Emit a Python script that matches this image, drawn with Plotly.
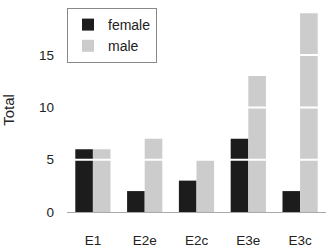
import plotly.graph_objects as go

categories = ["E1", "E2e", "E2c", "E3e", "E3c"]
female = [6, 2, 3, 7, 2]
male = [6, 7, 5, 13, 19]
y_ticks = [0, 5, 10, 15]

fig = go.Figure()
fig.add_trace(go.Bar(x=categories, y=female, name="female", marker_color="#1c1c1c",
                     marker_line_width=0))
fig.add_trace(go.Bar(x=categories, y=male, name="male", marker_color="#cccccc",
                     marker_line_width=0))

for t in y_ticks[1:]:
    fig.add_shape(type="line", xref="paper", x0=0, x1=1, yref="y", y0=t, y1=t,
                  line=dict(color="white", width=2), layer="above")

fig.update_layout(
    width=332, height=250,
    margin=dict(l=67, r=6, t=8, b=38),
    paper_bgcolor="white", plot_bgcolor="white",
    font=dict(family="Liberation Sans, Arial, sans-serif", size=13.5, color="#222"),
    barmode="group", bargap=0.32, bargroupgap=0,
    showlegend=True,
    legend=dict(x=0, y=1, xanchor="left", yanchor="top", bordercolor="#888",
                borderwidth=1, bgcolor="white", font=dict(size=14),
                tracegroupgap=0),
    xaxis=dict(showline=True, linecolor="#aaaaaa", linewidth=1, showgrid=False,
               ticks="", ticklabelstandoff=16, zeroline=False, automargin=False),
    yaxis=dict(range=[0, 19.5], tickvals=y_ticks, showgrid=False, zeroline=False,
               showline=False, ticks="", ticklabelstandoff=12, automargin=False,
               title=dict(text="Total", standoff=24, font=dict(size=15))),
)

fig.write_html("out.html", post_script="document.body.style.margin='0';",
               config={"displayModeBar": False})
